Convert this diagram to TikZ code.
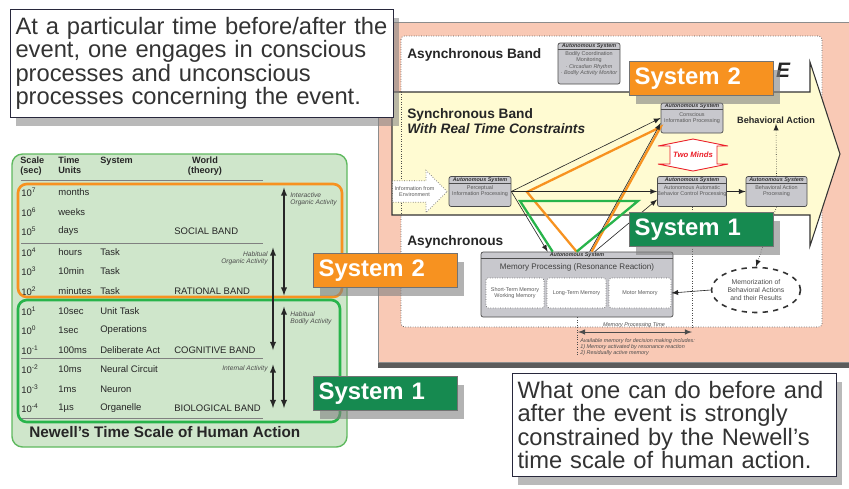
\documentclass[tikz,border=0pt]{standalone}
\usepackage{fontspec}
\setmainfont{Liberation Sans}
\usetikzlibrary{positioning, shapes, arrows, shadows}

\definecolor{salmon}{RGB}{249,201,181}
\definecolor{paleyellow}{RGB}{255,251,210}
\definecolor{panelgreen}{RGB}{207,230,203}
\definecolor{edgegreen}{RGB}{95,185,95}
\definecolor{sysorange}{RGB}{247,146,32}
\definecolor{sysgreen}{RGB}{22,138,80}
\definecolor{trigreen}{RGB}{40,180,75}
\definecolor{boxgray}{RGB}{200,200,205}
\definecolor{mindred}{RGB}{235,30,40}
\definecolor{inkblue}{RGB}{40,40,60}

\tikzset{
  callout/.style={draw=inkblue, fill=white, line width=0.7pt, text=black!80,
    anchor=north west, align=left, inner xsep=2.8pt, inner ysep=4.2pt,
    font=\fontsize{13.5}{13.4}\selectfont,
    drop shadow={opacity=0.55, shadow xshift=3pt, shadow yshift=-5pt}},
  syslabel/.style={draw=black!55, text=white, anchor=north west, align=left,
    text width=2.66cm, inner xsep=3pt, minimum height=0.68cm,
    font=\bfseries\fontsize{13.6}{14}\selectfont,
    drop shadow={opacity=0.6, shadow xshift=4pt, shadow yshift=-5pt}},
  autobox/.style={draw=black!70, fill=boxgray, rounded corners=1.2pt, inner sep=0pt,
    align=center, text=black!65, font=\fontsize{3.1}{3.5}\selectfont,
    minimum width=1.24cm, minimum height=0.6cm,
    label={[hdr]north:Autonomous System}},
  hdr/.style={anchor=north, inner sep=0.6pt, text=black!80,
    font=\bfseries\itshape\fontsize{3.1}{3.3}\selectfont},
  membox/.style={draw=black!60, densely dotted, fill=white, rounded corners=1pt,
    inner sep=0pt, align=center, text=black!65, font=\fontsize{3.1}{3.5}\selectfont,
    minimum height=0.6cm},
  bandtext/.style={anchor=north west, align=left, inner sep=0pt, text=black!85,
    font=\bfseries\fontsize{7.8}{8.6}\selectfont},
  tabrow/.style={anchor=west, inner sep=0pt, text=black!85, font=\fontsize{5.4}{6}\selectfont},
  colhead/.style={anchor=north west, align=left, inner sep=0pt, text=black!85,
    font=\bfseries\fontsize{5.2}{5.4}\selectfont},
  note/.style={inner sep=0pt, text=black!70, font=\itshape\fontsize{3.8}{4.3}\selectfont},
  tiny note/.style={inner sep=0pt, text=black!70, font=\itshape\fontsize{3.1}{3.5}\selectfont},
  scalebar/.style={latex-latex, black!85, line width=0.6pt},
  conn/.style={-latex, black!85, line width=0.35pt}
}

\begin{document}
\begin{tikzpicture}[x=0.02cm, y=-0.02cm]
\useasboundingbox (0,0) rectangle (849,488);

% Newell's time scale
\draw[edgegreen, fill=panelgreen, rounded corners=6pt, line width=0.8pt] (12,154) rectangle (347,447);
\node (hscale) [colhead] at (20,157) {Scale\\(sec)};
\node (htime) [colhead] at (58,157) {Time\\Units};
\node (hsys) [colhead] at (100,157) {System};
\node (hworld) [colhead, anchor=north, align=center] at (205,157) {World\\(theory)};
\foreach \rowy/\rowe/\rowt/\rows/\roww [count=\i] in {
    192/7/months/{}/{}, 212/6/weeks/{}/{}, 231/5/days/{}/SOCIAL BAND,
    252/4/hours/Task/{}, 271/3/10min/Task/{}, 291/2/minutes/Task/RATIONAL BAND,
    311/1/10sec/Unit Task/{}, 330/0/1sec/Operations/{},
    350/-1/100ms/Deliberate Act/COGNITIVE BAND,
    369/-2/10ms/Neural Circuit/{}, 389/-3/1ms/Neuron/{},
    408/-4/1µs/Organelle/BIOLOGICAL BAND} {
  \node (s\i) [tabrow] at (21,\rowy) {10\textsuperscript{\rowe}};
  \node (u\i) [tabrow] at (58,\rowy) {\rowt};
  \node (y\i) [tabrow] at (100,\rowy) {\rows};
  \node (w\i) [tabrow] at (174,\rowy) {\roww};
}
\foreach \ly in {180,243,358,418}
  \draw[black!50, line width=0.5pt] (21,\ly) -- (263,\ly);
\draw[sysorange, line width=1.5pt, rounded corners=5pt] (18,184) rectangle (342,297);
\draw[trigreen, line width=1.5pt, rounded corners=5pt] (18,300) rectangle (340,422);
\coordinate (colA) at (284,0);
\coordinate (colB) at (273,0);
\draw[scalebar] (colA |- s1.north) -- (colA |- s6.south);
\draw[scalebar] (colB |- s4.north) -- (colB |- s9);
\draw[scalebar] (colA |- s7.north) -- (colA |- s12);
\draw[scalebar] (colB |- s10.north) -- (colB |- s12);
\node (ioa) [note, anchor=north west, align=left] at (290,192) {Interactive\\Organic Activity};
\node (hoa) [note, anchor=north east, align=right] at (268,251) {Habitual\\Organic Activity};
\node (hba) [note, anchor=north west, align=left] at (290,311) {Habitual\\Bodily Activity};
\node (ia) [note, anchor=east] at (268,369) {Internal Activity};
\node (newell) [anchor=west, inner sep=0pt, text=black!85,
  font=\bfseries\fontsize{8.7}{9}\selectfont] at (29,432) {Newell's Time Scale of Human Action};

% two minds panel
\draw[black!45, fill=salmon, drop shadow={opacity=0.85, color=black!75, shadow xshift=0pt, shadow yshift=-3.4pt}]
  (378,22) rectangle (856,362);
\draw[black!70, densely dotted, fill=white, rounded corners=2pt] (401,36) rectangle (822,327);
\draw[black!80, fill=paleyellow, line width=0.6pt] (392,92) -- (810,92) -- (810,62) -- (840,154)
  -- (810,246) -- (810,215) -- (392,215) -- cycle;
\draw[black!70, densely dotted] (401,92) -- (401,215);
\node (banner) [inner sep=0pt, text=black!85, font=\bfseries\itshape\fontsize{11.9}{12}\selectfont] at (783,70) {E};

\node (asyncA) [bandtext, anchor=west] at (407,55) {Asynchronous Band};
\node (sync) [bandtext] at (407,108) {Synchronous Band\\\itshape With Real Time Constraints};
\node (asyncB) [bandtext, anchor=west] at (407,242) {Asynchronous};

\node (bodily) [autobox, minimum height=0.82cm] at (589,63.5)
  {Bodily Coordination\\Monitoring\\[0.5pt]\itshape · Circadian Rhythm\\\itshape · Bodily Activity Monitor};
\node (consc) [autobox] at (692,118) {Conscious\\Information Processing};
\node (auto) [autobox] at (692,191.5) {Autonomous Automatic\\Behavior Control Processing};
\node (behav) [autobox, minimum width=1.22cm] at (776.5,191.5) {Behavioral Action\\Processing};
\node (perc) [autobox] at (480,191.5) {Perceptual\\Information Processing};
\foreach \b in {bodily,consc,auto,behav,perc}
  \draw[black!70] ([yshift=-0.14cm]\b.north west) -- ([yshift=-0.14cm]\b.north east);
\node (env) [single arrow, left=0.02cm of perc, draw=black!60, densely dotted, fill=white,
  single arrow head extend=0.21cm, single arrow head indent=0pt, minimum height=1.06cm,
  inner xsep=1pt, inner ysep=3pt, align=center, text=black!65,
  font=\fontsize{3.1}{3.5}\selectfont] {Information from\\Environment};
\node (bact) [inner sep=0pt, text=black!85, font=\bfseries\fontsize{5.2}{6}\selectfont] at (776,120) {Behavioral Action};

\draw[mindred, fill=white, line width=0.5pt] (693,139) -- (728,146) -- (717,146) -- (717,164)
  -- (728,164) -- (693,171) -- (658,164) -- (670,164) -- (670,146) -- (658,146) -- cycle;
\node (minds) [inner sep=0pt, text=mindred, font=\bfseries\itshape\fontsize{4.4}{5}\selectfont] at (693,155) {Two Minds};

\node (mem) [autobox, minimum width=3.84cm, minimum height=1.3cm] at (577,284.5) {};
\draw[black!70, line width=0.6pt] ([yshift=-0.13cm]mem.north west) -- ([yshift=-0.13cm]mem.north east);
\node (memtitle) [inner sep=0pt, text=black!75, font=\fontsize{4.6}{5}\selectfont] at (577,267)
  {Memory Processing (Resonance Reaction)};
\node (stm) [membox, minimum width=1.16cm] at (515,293) {Short-Term Memory\\Working Memory};
\node (ltm) [membox, minimum width=1.18cm] at (576.5,293) {Long-Term Memory};
\node (motor) [membox, minimum width=1.24cm] at (640,293) {Motor Memory};
\node (memo) [ellipse, draw=black!80, dashed, line width=0.9pt, fill=white, inner sep=0pt,
  minimum width=1.78cm, minimum height=0.9cm, align=center, text=black!70,
  font=\fontsize{3.9}{4.5}\selectfont] at (756,290) {Memorization of\\Behavioral Actions\\and their Results};

% System 2 and System 1 paths
\coordinate (o2) at (527,192);
\coordinate (g1) at (520,201);
\coordinate (g2) at (638,201);
\draw[sysorange, line width=1.3pt] ([xshift=1.92cm]mem.north west) -- (o2)
  -- ([yshift=-0.18cm]consc.west) -- ([xshift=2.22cm]mem.north west);
\draw[trigreen, line width=1.3pt] ([xshift=1.44cm]mem.north west) -- (g1) -- (g2)
  -- ([xshift=1.92cm]mem.north west);

\draw[conn] (perc.east) -- (auto.west);
\draw[conn] (perc.east) -- (consc.west);
\draw[conn] (perc.east) -- ([xshift=1.34cm]mem.north west);
\draw[conn] ([xshift=2.18cm]mem.north west) -- ([yshift=-0.1cm]consc.west);
\draw[conn] ([xshift=2.28cm]mem.north west) -- ([yshift=-0.16cm]auto.west);
\draw[conn] (auto.east) -- (behav.west);
\draw[conn, densely dotted] (behav.north) -- (bact.south);
\draw[conn, densely dotted] (behav.south) -- (memo.north);
\draw[conn] (memo.west) -- (motor.east);

% memory processing time
\draw[black!70, densely dotted] (auto.south) -- ++(0,121);
\draw[black!70, densely dotted] (mem.south) -- ++(0,39);
\coordinate (mpl) at (578,332);
\coordinate (mpr) at (692,332);
\draw[latex-latex, black!70, line width=0.4pt] (mpl) -- (mpr);
\node (mptime) [tiny note] at (634,325) {Memory Processing Time};
\node (avail) [tiny note, anchor=north west, align=left] at (580,338)
  {Available memory for decision making includes:\\1) Memory activated by resonance reaction\\2) Residually active memory};

% callouts
\node (topnote) [callout, text width=7.46cm] at (10,9)
  {At a particular time before/after the\\event, one engages in conscious\\processes and unconscious\\processes concerning the event.};
\node (botnote) [callout, text width=6.28cm] at (512,373)
  {What one can do before and\\after the event is strongly\\constrained by the Newell's\\time scale of human action.};

\node (sysTwoR) [syslabel, fill=sysorange] at (629,61) {System 2};
\node (sysOneR) [syslabel, fill=sysgreen] at (629,212) {System 1};
\node (sysTwoL) [syslabel, fill=sysorange] at (313,253) {System 2};
\node (sysOneL) [syslabel, fill=sysgreen] at (313,376) {System 1};
\end{tikzpicture}
\end{document}
